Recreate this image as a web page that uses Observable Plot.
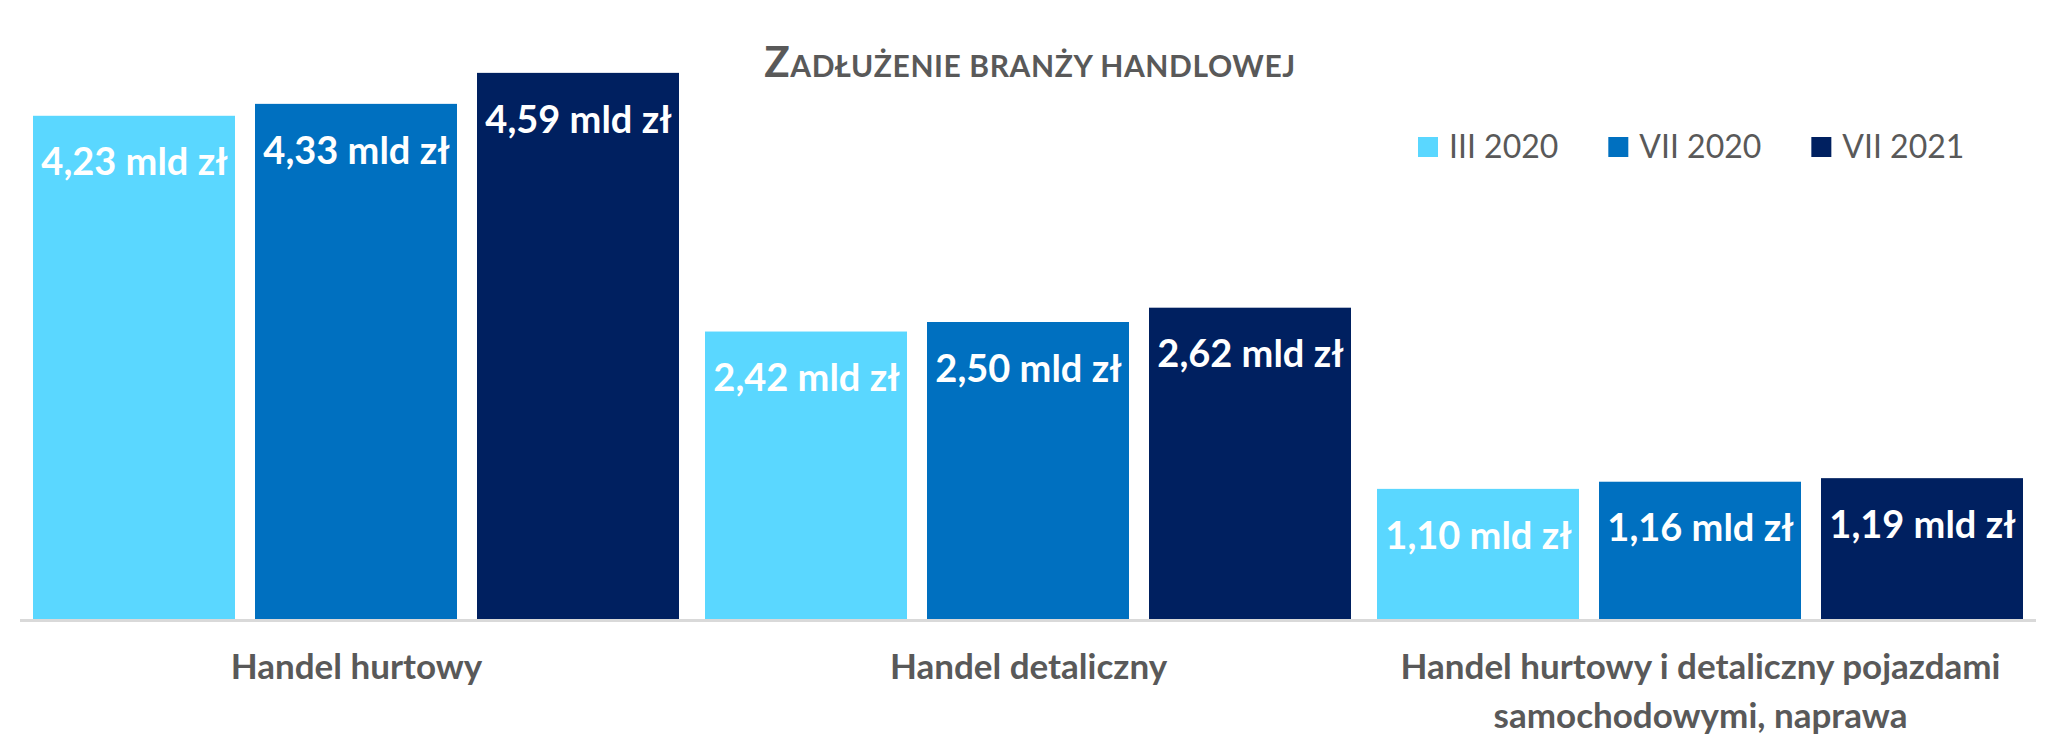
<!DOCTYPE html>
<html>
<head>
<meta charset="utf-8">
<script src="https://cdn.jsdelivr.net/npm/d3@7"></script>
<script src="https://cdn.jsdelivr.net/npm/@observablehq/plot@0.6"></script>
<style>
  html, body { margin: 0; padding: 0; background: #ffffff; }
  #chart { position: relative; width: 2059px; height: 746px; }
</style>
</head>
<body>
<div id="chart"></div>
<script>
const title = "Zadłużenie branży handlowej";
const categories = [
  "Handel hurtowy",
  "Handel detaliczny",
  "Handel hurtowy i detaliczny pojazdami\nsamochodowymi, naprawa"
];
const series = ["III 2020", "VII 2020", "VII 2021"];
const valuesIII2020 = [4.23, 2.42, 1.10];
const valuesVII2020 = [4.33, 2.50, 1.16];
const valuesVII2021 = [4.59, 2.62, 1.19];
const colors = ["#5ad7ff", "#0070c0", "#002060"];
const unit = " mld zł";

const seriesValues = [valuesIII2020, valuesVII2020, valuesVII2021];
const data = [];
categories.forEach((c, i) => {
  series.forEach((s, j) => {
    data.push({category: c, series: s, value: seriesValues[j][i]});
  });
});
const fmt = v => d3.format(".2f")(v).replace(".", ",") + unit;

const W = 2059, H = 746;
const textGray = "#595959";

const plot = Plot.plot({
  width: W,
  height: H,
  marginLeft: 19,
  marginRight: 22,
  marginTop: 24,
  marginBottom: 126,
  style: {fontFamily: "Lato, sans-serif", background: "#ffffff", overflow: "visible"},
  fx: {domain: categories, padding: 0, axis: null},
  x: {domain: series, paddingInner: 0.09, paddingOuter: 0.054, axis: null},
  y: {domain: [0, 5], axis: null},
  color: {domain: series, range: colors},
  marks: [
    Plot.barY(data, {fx: "category", x: "series", y: "value", fill: "series"}),
    Plot.ruleY([0], {stroke: "#d9d9d9", strokeWidth: 3}),
    Plot.text(data, {
      fx: "category", x: "series", y: "value",
      text: d => fmt(d.value),
      fill: "white", fontSize: 38, fontWeight: "bold", dy: 47
    }),
    Plot.text(categories, {
      fx: d => d,
      text: d => d,
      frameAnchor: "bottom",
      lineAnchor: "top",
      dy: 24,
      lineHeight: 1.39,
      fill: textGray,
      fontSize: 35,
      fontWeight: "bold"
    })
  ]
});

document.getElementById("chart").appendChild(plot);

const svg = d3.select(plot);

// Title with small caps
const t = svg.append("text")
  .attr("x", 1030)
  .attr("y", 77)
  .attr("text-anchor", "middle")
  .attr("fill", textGray)
  .attr("font-family", "Lato, sans-serif")
  .attr("font-weight", "bold")
  .attr("letter-spacing", 0.6);
t.append("tspan").attr("font-size", 42).text(title.charAt(0).toUpperCase());
t.append("tspan").attr("font-size", 30).text(title.slice(1).toUpperCase());

// Legend
const legend = svg.append("g").attr("font-family", "Lato, sans-serif");
let lx = 1418;
const swatch = 20, gapText = 11, gapItem = 50;
series.forEach((s, i) => {
  legend.append("rect")
    .attr("x", lx).attr("y", 137)
    .attr("width", swatch).attr("height", swatch)
    .attr("fill", colors[i]);
  const tx = legend.append("text")
    .attr("x", lx + swatch + gapText)
    .attr("y", 158)
    .attr("text-anchor", "start")
    .attr("fill", textGray)
    .attr("font-size", 32)
    .text(s);
  lx += swatch + gapText + tx.node().getComputedTextLength() + gapItem;
});
</script>
</body>
</html>
